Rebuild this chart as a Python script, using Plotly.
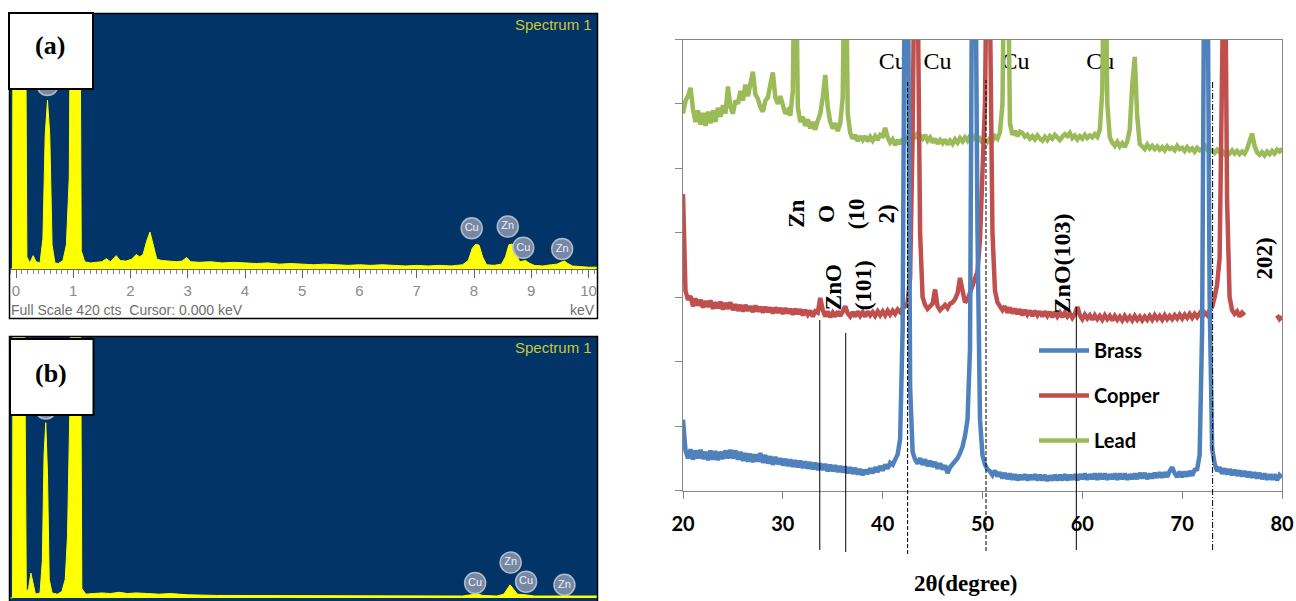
import numpy as np
import plotly.graph_objects as go

W, H = 1296, 601


def pxx(x):
    return x / W


def pxy(y):
    return 1 - y / H


# ---------------- XRD data (2theta grid, 0.25 deg) ----------------
two_theta = np.round(np.arange(20.0, 80.0001, 0.25), 2)

lead = [
    5.85, 6.05, 6.12, 6.25,
    5.92, 5.72, 5.90, 5.68,
    5.86, 5.66, 5.88, 5.70,
    5.90, 5.72, 5.94, 5.80,
    5.98, 5.85, 6.27, 5.95,
    5.85, 6.05, 6.00, 6.20,
    6.05, 6.30, 6.12, 6.35,
    6.50, 6.15, 6.08, 5.95,
    5.88, 6.05, 6.10, 6.30,
    6.49, 6.10, 6.00, 6.12,
    5.95, 5.85, 5.90, 5.82,
    6.20, 9.50, 5.95, 5.72,
    5.80, 5.66, 5.76, 5.62,
    5.72, 5.60, 5.74, 5.85,
    6.10, 6.45, 5.95, 5.72,
    5.62, 5.70, 5.58, 5.70,
    6.10, 9.50, 5.85, 5.55,
    5.46, 5.52, 5.42, 5.50,
    5.44, 5.50, 5.42, 5.49,
    5.43, 5.50, 5.44, 5.52,
    5.50, 5.63, 5.48, 5.40,
    5.45, 5.36, 5.44, 5.38,
    5.46, 5.40, 5.48, 5.44,
    5.52, 5.46, 5.56, 5.50,
    5.46, 5.52, 5.43, 5.48,
    5.40, 5.46, 5.38, 5.44,
    5.39, 5.45, 5.37, 5.43,
    5.38, 5.45, 5.40, 5.47,
    5.42, 5.48, 5.43, 5.50,
    5.45, 5.50, 5.42, 5.46,
    5.40, 5.45, 5.41, 5.47,
    5.43, 5.50, 5.46, 5.56,
    6.00, 9.50, 9.00, 5.70,
    5.52, 5.58, 5.50, 5.57,
    5.55, 5.49, 5.52, 5.46,
    5.50, 5.45, 5.51, 5.46,
    5.43, 5.49, 5.44, 5.50,
    5.46, 5.52, 5.47, 5.44,
    5.49, 5.53, 5.50, 5.55,
    5.47, 5.51, 5.45, 5.50,
    5.46, 5.52, 5.47, 5.51,
    5.48, 5.53, 5.49, 5.60,
    6.20, 9.50, 6.00, 5.48,
    5.40, 5.35, 5.41, 5.34,
    5.39, 5.33, 5.42, 5.60,
    6.30, 6.73, 5.80, 5.38,
    5.34, 5.30, 5.37, 5.31,
    5.35, 5.30, 5.34, 5.29,
    5.33, 5.28, 5.34, 5.30,
    5.32, 5.28, 5.35, 5.30,
    5.32, 5.27, 5.33, 5.28,
    5.31, 5.26, 5.32, 5.28,
    5.30, 5.35, 5.29, 5.26,
    5.28, 5.24, 5.29, 5.25,
    5.27, 5.22, 5.26, 5.23,
    5.28, 5.23, 5.27, 5.22,
    5.26, 5.23, 5.30, 5.40,
    5.54, 5.35, 5.25, 5.21,
    5.25, 5.20, 5.26, 5.22,
    5.27, 5.23, 5.29, 5.26,
    5.31,
]

copper = [
    4.60, 3.10, 2.96, 3.02,
    2.86, 2.98, 2.87, 2.96,
    2.84, 2.94, 2.85, 2.95,
    2.82, 2.92, 2.83, 2.93,
    2.81, 2.91, 2.82, 2.92,
    2.80, 2.89, 2.79, 2.88,
    2.78, 2.88, 2.79, 2.86,
    2.77, 2.87, 2.78, 2.85,
    2.76, 2.85, 2.77, 2.84,
    2.75, 2.84, 2.76, 2.83,
    2.74, 2.83, 2.75, 2.82,
    2.73, 2.82, 2.74, 2.81,
    2.72, 2.80, 2.73, 2.79,
    2.70, 2.78, 2.76, 2.99,
    2.80, 2.70, 2.78, 2.69,
    2.76, 2.70, 2.78, 2.71,
    2.78, 2.86, 2.75, 2.70,
    2.77, 2.70, 2.78, 2.71,
    2.77, 2.70, 2.78, 2.72,
    2.77, 2.71, 2.78, 2.72,
    2.78, 2.72, 2.79, 2.73,
    2.79, 2.74, 2.81, 2.77,
    2.83, 2.86, 2.92, 3.30,
    5.50, 9.50, 8.00, 4.00,
    3.00, 2.88, 2.82, 2.86,
    2.90, 3.12, 2.86, 2.80,
    2.84, 2.88, 2.83, 2.90,
    2.92, 2.97, 3.06, 3.30,
    3.10, 2.92, 2.96, 3.06,
    3.16, 3.26, 3.40, 3.90,
    4.80, 6.00, 9.50, 7.50,
    4.00, 3.10, 2.92, 2.86,
    2.80, 2.86, 2.76, 2.84,
    2.75, 2.82, 2.74, 2.81,
    2.72, 2.80, 2.73, 2.79,
    2.71, 2.79, 2.72, 2.78,
    2.70, 2.78, 2.71, 2.77,
    2.69, 2.77, 2.70, 2.76,
    2.69, 2.76, 2.70, 2.75,
    2.68, 2.74, 2.85, 2.72,
    2.66, 2.73, 2.67, 2.72,
    2.65, 2.72, 2.66, 2.71,
    2.65, 2.72, 2.66, 2.71,
    2.64, 2.71, 2.65, 2.70,
    2.64, 2.71, 2.65, 2.70,
    2.64, 2.71, 2.65, 2.70,
    2.64, 2.70, 2.65, 2.71,
    2.65, 2.72, 2.66, 2.71,
    2.65, 2.72, 2.66, 2.71,
    2.66, 2.72, 2.67, 2.73,
    2.67, 2.73, 2.68, 2.74,
    2.68, 2.74, 2.69, 2.75,
    2.70, 2.76, 2.72, 2.80,
    2.85, 3.00, 3.20, 3.60,
    9.50, 9.50, 4.50, 3.00,
    2.80, 2.74, 2.78, 2.70,
    2.76, 2.72, None, None,
    None, None, None, None,
    None, None, None, None,
    None, None, 2.72, 2.66,
    2.70,
]

brass = [
    1.10, 0.62, 0.50, 0.64,
    0.48, 0.62, 0.50, 0.63,
    0.49, 0.60, 0.47, 0.62,
    0.48, 0.61, 0.47, 0.60,
    0.49, 0.62, 0.50, 0.63,
    0.50, 0.62, 0.48, 0.60,
    0.46, 0.58, 0.45, 0.57,
    0.44, 0.56, 0.45, 0.58,
    0.43, 0.55, 0.42, 0.53,
    0.40, 0.52, 0.41, 0.50,
    0.39, 0.49, 0.38, 0.48,
    0.37, 0.47, 0.36, 0.46,
    0.35, 0.45, 0.34, 0.44,
    0.33, 0.43, 0.32, 0.42,
    0.32, 0.41, 0.30, 0.40,
    0.30, 0.39, 0.29, 0.38,
    0.28, 0.37, 0.27, 0.36,
    0.26, 0.35, 0.25, 0.33,
    0.24, 0.32, 0.26, 0.34,
    0.27, 0.36, 0.29, 0.38,
    0.31, 0.40, 0.34, 0.43,
    0.40, 0.50, 0.56, 0.80,
    2.50, 9.50, 9.50, 1.60,
    0.60, 0.48, 0.42, 0.50,
    0.40, 0.48, 0.38, 0.46,
    0.37, 0.44, 0.34, 0.42,
    0.33, 0.39, 0.27, 0.36,
    0.40, 0.46, 0.50, 0.58,
    0.68, 0.85, 1.10, 2.20,
    9.50, 9.50, 4.00, 1.10,
    0.55, 0.40, 0.33, 0.30,
    0.24, 0.31, 0.22, 0.28,
    0.19, 0.27, 0.18, 0.26,
    0.17, 0.25, 0.16, 0.24,
    0.17, 0.25, 0.16, 0.24,
    0.17, 0.25, 0.16, 0.24,
    0.16, 0.24, 0.15, 0.23,
    0.16, 0.24, 0.16, 0.24,
    0.16, 0.25, 0.16, 0.24,
    0.17, 0.25, 0.16, 0.25,
    0.18, 0.26, 0.17, 0.25,
    0.18, 0.26, 0.17, 0.26,
    0.18, 0.26, 0.17, 0.25,
    0.18, 0.26, 0.17, 0.26,
    0.18, 0.26, 0.17, 0.25,
    0.18, 0.26, 0.18, 0.27,
    0.19, 0.27, 0.18, 0.26,
    0.19, 0.27, 0.20, 0.28,
    0.20, 0.28, 0.21, 0.30,
    0.36, 0.27, 0.21, 0.29,
    0.21, 0.29, 0.22, 0.30,
    0.23, 0.32, 0.33, 0.55,
    2.50, 9.50, 9.50, 3.00,
    0.65, 0.42, 0.30, 0.36,
    0.26, 0.34, 0.25, 0.33,
    0.24, 0.32, 0.23, 0.31,
    0.22, 0.30, 0.21, 0.29,
    0.20, 0.28, 0.19, 0.27,
    0.18, 0.26, 0.17, 0.25,
    0.17, 0.25, 0.16, 0.24,
    0.20,
]

xrd_tick_vals = [20, 30, 40, 50, 60, 70, 80]
cu_label_x = [41.0, 45.5, 53.3, 61.8]
cu_label_y = [6.63, 6.63, 6.63, 6.63]
zno_line_x = [33.7, 36.3, 59.4]
cu_dash_x = [42.5, 50.35]
cu_dashdot_x = [73.05]

# ---------------- EDS spectra ----------------
eds_a_kev = [-0.10, -0.06, -0.05, 0.16, 0.19, 0.24, 0.30, 0.35, 0.42, 0.47, 0.51, 0.55, 0.59, 0.63,
             0.68, 0.74, 0.82, 0.88, 0.93, 0.96, 1.11, 1.14, 1.20, 1.30, 1.40, 1.50, 1.58, 1.65,
             1.75, 1.82, 1.92, 2.02, 2.10, 2.16, 2.22, 2.28, 2.34, 2.40, 2.46, 2.55, 2.65, 2.80,
             2.90, 2.98, 3.05, 3.20, 3.40, 3.60, 3.80, 4.00, 4.20, 4.40, 4.60, 4.80, 5.00, 5.20,
             5.40, 5.60, 5.80, 6.00, 6.20, 6.40, 6.60, 6.80, 7.00, 7.20, 7.40, 7.60, 7.80, 7.90,
             7.97, 8.03, 8.09, 8.15, 8.22, 8.35, 8.48, 8.55, 8.61, 8.67, 8.73, 8.80, 8.90, 8.96,
             9.05, 9.20, 9.35, 9.45, 9.52, 9.58, 9.64, 9.72, 9.85, 10.00, 10.20]
eds_a_cts = [0, 0, 600, 600, 20, 10, 22, 12, 10, 50, 220, 278, 220, 40,
             10, 9, 14, 40, 150, 600, 600, 30, 12, 10, 11, 12, 17, 12,
             22, 14, 13, 16, 24, 20, 24, 45, 61, 40, 16, 14, 13, 12,
             13, 19, 12, 11, 12, 10, 11, 10, 9, 10, 8, 9, 8, 7,
             8, 7, 6, 7, 6, 7, 6, 5, 6, 5, 6, 5, 7, 14,
             34, 41, 39, 20, 7, 6, 8, 20, 40, 41, 25, 12, 14, 10,
             6, 5, 7, 8, 11, 13, 9, 5, 4, 3, 3]

eds_b_kev = [-0.10, -0.06, -0.05, 0.14, 0.18, 0.22, 0.26, 0.30, 0.34, 0.42, 0.46, 0.49, 0.52, 0.55,
             0.58, 0.63, 0.72, 0.80, 0.86, 0.90, 0.94, 0.97, 1.12, 1.15, 1.22, 1.35, 1.50, 1.65,
             1.80, 1.95, 2.10, 2.30, 2.50, 2.70, 3.00, 3.50, 4.00, 5.00, 6.00, 7.00, 7.80, 7.95,
             8.05, 8.15, 8.40, 8.52, 8.58, 8.63, 8.69, 8.76, 8.90, 9.05, 9.50, 9.58, 9.70, 10.20]
eds_b_cts = [0, 0, 600, 600, 10, 15, 40, 20, 6, 8, 60, 230, 282, 200,
             30, 8, 6, 10, 30, 100, 300, 600, 600, 15, 6, 7, 8, 7,
             9, 7, 8, 7, 6, 7, 5, 4, 4, 3, 3, 3, 3, 5,
             7, 4, 3, 6, 14, 21, 14, 6, 5, 3, 3, 4, 3, 3]

eds_tick_vals = list(range(0, 11))
eds_a_label_txt = ["Cu", "Zn", "Cu", "Zn", ""]
eds_a_label_kev = [7.96, 8.59, 8.86, 9.54, 0.55]
eds_a_label_cts = [67, 70, 35, 33, 303]
eds_b_label_txt = ["Cu", "Zn", "Cu", "Zn", ""]
eds_b_label_kev = [8.02, 8.64, 8.91, 9.58, 0.52]
eds_b_label_cts = [24, 57, 26, 21, 305]

# ---------------- colours / fonts ----------------
C_BRASS = "#4F81BD"
C_COPPER = "#C0504D"
C_LEAD = "#9BBB59"
EDS_BG = "#023468"
EDS_YEL = "#FFFF00"
SERIF = "Liberation Serif"
SANS = "Lato"

fig = go.Figure()

# ---- EDS (a) ----
fig.add_trace(go.Scatter(x=eds_a_kev, y=eds_a_cts, mode="lines", fill="tozeroy",
                         fillcolor=EDS_YEL, line=dict(color=EDS_YEL, width=1),
                         xaxis="x", yaxis="y", showlegend=False, hoverinfo="skip"))
fig.add_trace(go.Scatter(x=eds_a_label_kev, y=eds_a_label_cts, mode="markers+text",
                         text=eds_a_label_txt, textposition="middle center",
                         textfont=dict(family="Liberation Sans", size=11, color="#EEF0F4"),
                         marker=dict(size=21, color="rgba(140,152,175,0.85)",
                                     line=dict(color="rgba(190,198,212,0.9)", width=1.5)),
                         xaxis="x", yaxis="y", showlegend=False, hoverinfo="skip"))
# ---- EDS (b) ----
fig.add_trace(go.Scatter(x=eds_b_kev, y=eds_b_cts, mode="lines", fill="tozeroy",
                         fillcolor=EDS_YEL, line=dict(color=EDS_YEL, width=1),
                         xaxis="x2", yaxis="y2", showlegend=False, hoverinfo="skip"))
fig.add_trace(go.Scatter(x=eds_b_label_kev, y=eds_b_label_cts, mode="markers+text",
                         text=eds_b_label_txt, textposition="middle center",
                         textfont=dict(family="Liberation Sans", size=11, color="#EEF0F4"),
                         marker=dict(size=21, color="rgba(140,152,175,0.85)",
                                     line=dict(color="rgba(190,198,212,0.9)", width=1.5)),
                         xaxis="x2", yaxis="y2", showlegend=False, hoverinfo="skip"))

# ---- XRD ----
fig.add_trace(go.Scatter(x=cu_label_x, y=cu_label_y, mode="text", text=["Cu"] * 4,
                         textfont=dict(family=SERIF, size=24, color="black"),
                         xaxis="x3", yaxis="y3", showlegend=False, hoverinfo="skip"))
fig.add_trace(go.Scatter(x=two_theta, y=lead, mode="lines", name="Lead", legendrank=3,
                         legendgroup="g3",
                         line=dict(color=C_LEAD, width=4.5), xaxis="x3", yaxis="y3",
                         connectgaps=False))
fig.add_trace(go.Scatter(x=two_theta, y=copper, mode="lines", name="Copper", legendrank=2,
                         legendgroup="g2",
                         line=dict(color=C_COPPER, width=4.5), xaxis="x3", yaxis="y3",
                         connectgaps=False))
fig.add_trace(go.Scatter(x=two_theta, y=brass, mode="lines", name="Brass", legendrank=1,
                         legendgroup="g1",
                         line=dict(color=C_BRASS, width=4.5), xaxis="x3", yaxis="y3",
                         connectgaps=False))

shapes = []
# EDS backgrounds
for xr, yr in (("x", "y"), ("x2", "y2")):
    shapes.append(dict(type="rect", xref=xr + " domain", yref=yr + " domain", x0=0, x1=1,
                       y0=0, y1=1, fillcolor=EDS_BG, line=dict(width=0), layer="below"))
# EDS panel borders
shapes.append(dict(type="rect", xref="paper", yref="paper", x0=pxx(9.5), x1=pxx(597.5),
                   y0=pxy(318.5), y1=pxy(13.5), line=dict(color="black", width=1.5)))
shapes.append(dict(type="rect", xref="paper", yref="paper", x0=pxx(9.5), x1=pxx(597.5),
                   y0=pxy(603), y1=pxy(336.5), line=dict(color="black", width=1.5)))
# label boxes
shapes.append(dict(type="rect", xref="paper", yref="paper", x0=pxx(9), x1=pxx(93),
                   y0=pxy(89), y1=pxy(13), fillcolor="white", line=dict(color="black", width=2),
                   layer="above"))
shapes.append(dict(type="rect", xref="paper", yref="paper", x0=pxx(10), x1=pxx(93.5),
                   y0=pxy(415), y1=pxy(339), fillcolor="white", line=dict(color="black", width=2),
                   layer="above"))
# XRD reference lines
zno_tops = [320, 333, 307]
zno_bots = [550, 552, 550]
for xv, t, b in zip(zno_line_x, zno_tops, zno_bots):
    shapes.append(dict(type="line", xref="x3", yref="paper", x0=xv, x1=xv, y0=pxy(b), y1=pxy(t),
                       line=dict(color="black", width=1)))
for xv, b in zip(cu_dash_x, [554, 551]):
    shapes.append(dict(type="line", xref="x3", yref="paper", x0=xv, x1=xv, y0=pxy(b), y1=pxy(80),
                       line=dict(color="black", width=1, dash="4px,2px")))
for xv in cu_dashdot_x:
    shapes.append(dict(type="line", xref="x3", yref="paper", x0=xv, x1=xv, y0=pxy(550), y1=pxy(80),
                       line=dict(color="black", width=1, dash="6px,2px,1px,2px")))

C = dict(xanchor="center", yanchor="middle", showarrow=False)
ann = []
ann.append(dict(text="<b>(a)</b>", x=pxx(50), y=pxy(45), xref="paper", yref="paper",
                font=dict(family=SERIF, size=26, color="black"), **C))
ann.append(dict(text="<b>(b)</b>", x=pxx(51), y=pxy(373), xref="paper", yref="paper",
                font=dict(family=SERIF, size=26, color="black"), **C))
for yy in (25, 347):
    ann.append(dict(text="Spectrum 1", x=pxx(594), y=pxy(yy), xref="paper", yref="paper",
                    xanchor="right", yanchor="middle", showarrow=False,
                    font=dict(family="Liberation Sans", size=15, color="#C8C834")))
ann.append(dict(text="Full Scale 420 cts  Cursor: 0.000 keV", x=pxx(9), y=pxy(310),
                xref="paper", yref="paper", xanchor="left", yanchor="middle", showarrow=False,
                font=dict(family="Liberation Sans", size=14, color="#6E6E6E")))
ann.append(dict(text="keV", x=pxx(597), y=pxy(310), xref="paper", yref="paper",
                xanchor="right", yanchor="middle", showarrow=False,
                font=dict(family="Liberation Sans", size=14, color="#6E6E6E")))
# XRD labels
ann.append(dict(text="<b>Zn<br>O<br>(10<br>2)</b>", x=35.83, y=4.29, xref="x3", yref="y3",
                textangle=-90, align="center",
                font=dict(family=SERIF, size=23, color="black"), **C))
ann.append(dict(text="<b>ZnO<br>(101)</b>", x=36.58, y=3.18, xref="x3", yref="y3",
                textangle=-90, align="left",
                font=dict(family=SERIF, size=23, color="black"), **C))
ann.append(dict(text="<b>ZnO(103)</b>", x=58.0, y=3.53, xref="x3", yref="y3",
                textangle=-90,
                font=dict(family=SERIF, size=24, color="black"), **C))
ann.append(dict(text="<b>202)</b>", x=78.3, y=3.6, xref="x3", yref="y3",
                textangle=-90, bgcolor="white",
                font=dict(family=SERIF, size=23, color="black"), **C))
ann.append(dict(text="<b>2θ(degree)</b>", x=pxx(966), y=pxy(583), xref="paper", yref="paper",
                font=dict(family=SERIF, size=23, color="black"), **C))

eds_range = [-(16 - 10) / 57.25, 10 + (598 - 588.5) / 57.25]

fig.update_layout(
    width=W, height=H, margin=dict(l=0, r=0, t=0, b=0, autoexpand=False),
    paper_bgcolor="white", plot_bgcolor="white",
    shapes=shapes, annotations=ann,
    showlegend=True,
    legend=dict(x=pxx(1034), y=pxy(331), xanchor="left", yanchor="top",
                bgcolor="rgba(0,0,0,0)", traceorder="grouped", tracegroupgap=16,
                itemwidth=50, font=dict(family=SANS, size=20, color="black", weight="bold")),
    xaxis=dict(domain=[pxx(10), pxx(598)], anchor="y", range=eds_range, automargin=False,
               tickvals=eds_tick_vals, ticks="outside", ticklen=8, tickcolor="#666666",
               showline=True, linecolor="#666666", linewidth=1, showgrid=False, zeroline=False,
               minor=dict(dtick=0.1, ticks="outside", ticklen=4, tickcolor="#888888", showgrid=False),
               tickfont=dict(family="Liberation Sans", size=15, color="#8A8A8A")),
    yaxis=dict(domain=[pxy(269), pxy(14)], anchor="x", range=[0, 420], visible=False,
               automargin=False),
    xaxis2=dict(domain=[pxx(10), pxx(598)], anchor="y2", range=eds_range, visible=False,
                automargin=False),
    yaxis2=dict(domain=[0, pxy(337)], anchor="x2", range=[-5, 420], visible=False,
                automargin=False),
    xaxis3=dict(domain=[pxx(683), pxx(1282)], anchor="y3", range=[20, 80], automargin=False,
                tickvals=xrd_tick_vals, ticks="outside", ticklen=7, tickcolor="#868686",
                showline=True, linecolor="#868686", linewidth=1, mirror=True,
                showgrid=False, zeroline=False, ticklabelstandoff=8,
                tickfont=dict(family=SANS, size=20, color="black", weight="bold")),
    yaxis3=dict(domain=[pxy(490.5), pxy(39.5)], anchor="x3", range=[0, 7], dtick=1,
                automargin=False,
                ticks="outside", ticklen=7, tickcolor="#868686", showticklabels=False,
                showline=True, linecolor="#868686", linewidth=1, mirror=True,
                showgrid=False, zeroline=False),
)

fig.write_html("out.html", config={"displayModeBar": False},
               post_script="document.body.style.margin='0';document.body.style.overflow='hidden';")
